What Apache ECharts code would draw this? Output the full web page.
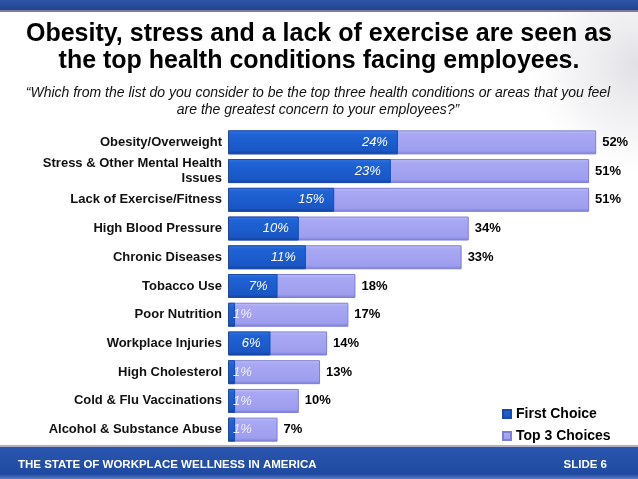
<!DOCTYPE html>
<html>
<head>
<meta charset="utf-8">
<script src="https://cdn.jsdelivr.net/npm/echarts@6/dist/echarts.min.js"></script>
<style>
html,body{margin:0;padding:0;background:#fff;}
#c{width:638px;height:479px;}
</style>
</head>
<body>
<div id="c"></div>
<script>
var categories = [
  'Obesity/Overweight',
  'Stress & Other Mental Health\nIssues',
  'Lack of Exercise/Fitness',
  'High Blood Pressure',
  'Chronic Diseases',
  'Tobacco Use',
  'Poor Nutrition',
  'Workplace Injuries',
  'High Cholesterol',
  'Cold & Flu Vaccinations',
  'Alcohol & Substance Abuse'
];
var firstChoice = [24, 23, 15, 10, 11, 7, 1, 6, 1, 1, 1];
var top3Choices = [52, 51, 51, 34, 33, 18, 17, 14, 13, 10, 7];
var seriesNames = ['First Choice', 'Top 3 Choices'];

var chart = echarts.init(document.getElementById('c'));
var font = 'Liberation Sans, Arial, sans-serif';

var darkGrad = new echarts.graphic.LinearGradient(0, 0, 0, 1, [
  {offset: 0, color: '#3578e6'},
  {offset: 0.15, color: '#1f63d6'},
  {offset: 0.85, color: '#1a56c4'},
  {offset: 1, color: '#11409a'}
]);
var lightGrad = new echarts.graphic.LinearGradient(0, 0, 0, 1, [
  {offset: 0, color: '#c0c0f8'},
  {offset: 0.15, color: '#a8a8f4'},
  {offset: 0.85, color: '#9e9eee'},
  {offset: 1, color: '#7c7cd6'}
]);

var firstData = firstChoice.map(function (v) {
  return {
    value: v,
    label: v < 3 ? {position: 'insideLeft', distance: 5, color: '#eeeeff'} : {position: 'insideRight', distance: 10}
  };
});

chart.setOption({
  animation: false,
  backgroundColor: '#ffffff',
  graphic: [
    {type: 'rect', shape: {x: 480, y: 12, width: 158, height: 180},
     style: {fill: new echarts.graphic.RadialGradient(1, 0.3, 0.75, [
       {offset: 0, color: 'rgba(200,200,208,0.55)'},
       {offset: 0.6, color: 'rgba(215,215,222,0.25)'},
       {offset: 1, color: 'rgba(255,255,255,0)'}
     ])}, silent: true, z: -10},
    {type: 'rect', shape: {x: 0, y: 0, width: 638, height: 10},
     style: {fill: new echarts.graphic.LinearGradient(0, 0, 0, 1, [
       {offset: 0, color: '#2f55a8'}, {offset: 1, color: '#22448e'}
     ])}, silent: true},
    {type: 'rect', shape: {x: 0, y: 10, width: 638, height: 2},
     style: {fill: '#7a7a9a'}, silent: true},
    {type: 'rect', shape: {x: 0, y: 445, width: 638, height: 2},
     style: {fill: '#b0b0c0'}, silent: true},
    {type: 'rect', shape: {x: 0, y: 447, width: 638, height: 32},
     style: {fill: new echarts.graphic.LinearGradient(0, 0, 0, 1, [
       {offset: 0, color: '#2a56b0'}, {offset: 0.85, color: '#1f4aa0'}, {offset: 1, color: '#5a7cc8'}
     ])}, silent: true},
    {type: 'text', left: 18, top: 459,
     style: {text: 'THE STATE OF WORKPLACE WELLNESS IN AMERICA', fill: '#ffffff',
       font: 'bold 11.5px ' + font}, silent: true},
    {type: 'text', right: 31, top: 459,
     style: {text: 'SLIDE 6', fill: '#ffffff', font: 'bold 11.5px ' + font}, silent: true},
    {type: 'text', style: {x: 319, y: 20, text: 'Obesity, stress and a lack of exercise are seen as\nthe top health conditions facing employees.',
       align: 'center', verticalAlign: 'top', fill: '#000', font: 'bold 25px ' + font, lineHeight: 27.5}, silent: true},
    {type: 'text', style: {x: 318, y: 85, text: '\u201cWhich from the list do you consider to be the top three health conditions or areas that you feel\nare the greatest concern to your employees?\u201d',
       align: 'center', verticalAlign: 'top', fill: '#111', font: 'italic 14px ' + font, lineHeight: 17}, silent: true}
  ],
  legend: {
    data: seriesNames,
    orient: 'vertical',
    left: 497, top: 402,
    itemWidth: 8, itemHeight: 8, itemGap: 8,
    icon: 'rect',
    textStyle: {fontFamily: font, fontWeight: 'bold', fontSize: 14, color: '#000'}
  },
  grid: {left: 228, top: 128, bottom: 35, right: 20.6, containLabel: false},
  xAxis: {
    type: 'value', min: 0, max: 55, show: false
  },
  yAxis: {
    type: 'category', data: categories, inverse: true,
    axisLine: {show: false}, axisTick: {show: false},
    axisLabel: {fontFamily: font, fontWeight: 'bold', fontSize: 13, color: '#111', margin: 6, lineHeight: 15, align: 'right'}
  },
  series: [
    {
      name: 'Top 3 Choices', type: 'bar', data: top3Choices, barWidth: 24, barGap: '-100%',
      itemStyle: {color: lightGrad, borderColor: '#7e7ed4', borderWidth: 1},
      label: {show: true, position: 'right', distance: 6, formatter: '{c}%',
        fontFamily: font, fontWeight: 'bold', fontSize: 13, color: '#000'},
      z: 2
    },
    {
      name: 'First Choice', type: 'bar', data: firstData, barWidth: 24, barGap: '-100%',
      itemStyle: {color: darkGrad, borderColor: '#1a4aa8', borderWidth: 1},
      label: {show: true, formatter: '{c}%', fontFamily: font, fontStyle: 'italic', fontSize: 13, color: '#ffffff'},
      z: 3
    }
  ]
});
</script>
</body>
</html>
